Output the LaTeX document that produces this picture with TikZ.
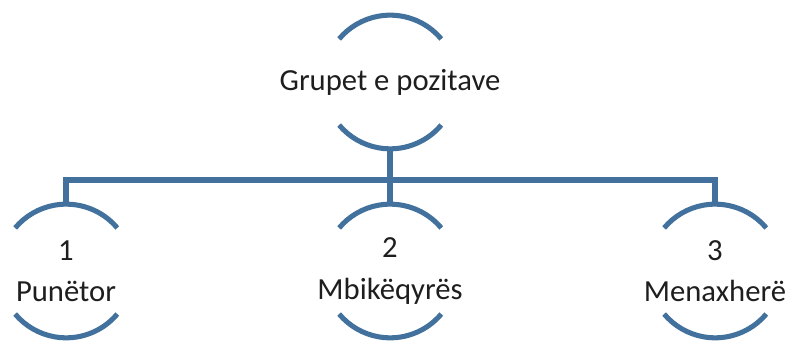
\documentclass[tikz,border=0pt]{standalone}
\usepackage{fontspec}
\setmainfont{Carlito}
\definecolor{barblue}{RGB}{65,113,156}
\definecolor{txtgray}{RGB}{30,30,30}

\begin{document}
\begin{tikzpicture}[x=0.75pt, y=-0.75pt,
	ring/.style={circle, minimum size=100pt, inner sep=0pt},
	postext/.style={align=center, text=txtgray, font=\fontsize{23}{31}\selectfont},
	arcline/.style={draw=barblue, line width=3.8pt}]
	\useasboundingbox (0,0) rectangle (794,341);
	\node[ring] (top) at (390,82) {};
	\node[ring] (n1) at (66,271) {};
	\node[ring] (n2) at (390,271) {};
	\node[ring] (n3) at (715,271) {};
	\node[postext] (topl) at (top) {Grupet e pozitave};
	\node[postext] (n1l) at (n1) {1\\Punëtor};
	\node[postext] (n2l) at (n2) {2\\Mbikëqyrës};
	\node[postext] (n3l) at (n3) {3\\Menaxherë};
	% arcs above and below each ring
	\foreach \n in {top, n1, n2, n3} {
		\draw[arcline] (\n.40) arc[start angle=40, end angle=140, radius=50pt];
		\draw[arcline] (\n.-40) arc[start angle=-40, end angle=-140, radius=50pt];
	}
	\coordinate (bar) at (390,180);
	\draw[arcline] (top.south) -- (bar);
	\draw[arcline] (n1.north) |- (bar) -| (n3.north);
	\draw[arcline] (bar) -- (n2.north);
\end{tikzpicture}
\end{document}
